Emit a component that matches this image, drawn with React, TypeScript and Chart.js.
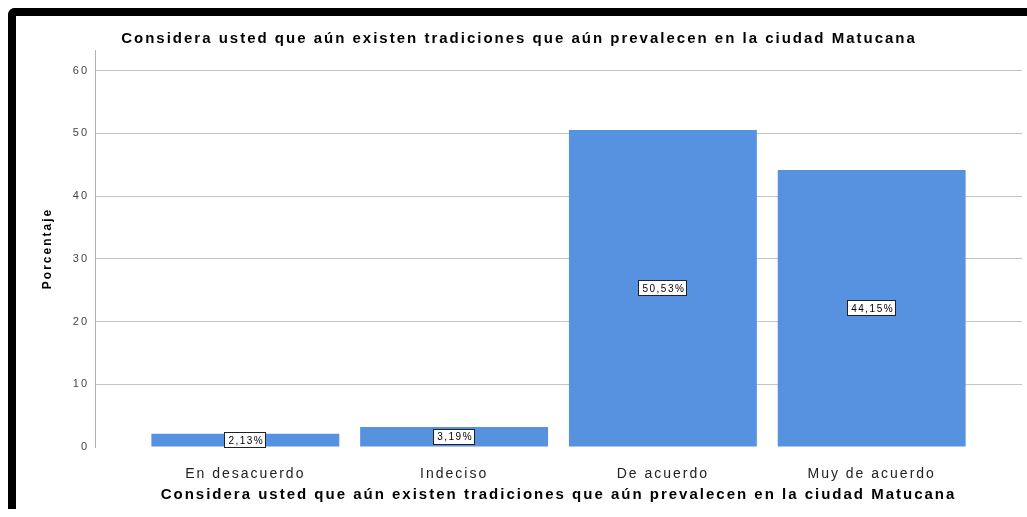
import React, { useEffect, useRef } from 'react';
import { Chart, registerables } from 'chart.js';

Chart.register(...registerables);

const categories = ['En desacuerdo', 'Indeciso', 'De acuerdo', 'Muy de acuerdo'];
const percentages = [2.13, 3.19, 50.53, 44.15];
const yTickValues = [0, 10, 20, 30, 40, 50, 60];
const chartTitle = 'Considera usted que aún existen tradiciones que aún prevalecen en la ciudad Matucana';
const yAxisTitle = 'Porcentaje';

const FONT = '"Liberation Sans", Arial, sans-serif';
const SPACING = '2px';
const BAR_COLOR = '#5692e0';

const spacingPlugin = {
  id: 'letterSpacingPlugin',
  beforeUpdate(chart: any) {
    chart.ctx.letterSpacing = SPACING;
  },
  beforeDraw(chart: any) {
    chart.ctx.letterSpacing = SPACING;
  },
};

const valueLabelPlugin = {
  id: 'valueLabelPlugin',
  afterDatasetsDraw(chart: any) {
    const ctx = chart.ctx;
    const meta = chart.getDatasetMeta(0);
    ctx.save();
    ctx.letterSpacing = '1.5px';
    ctx.font = `10px ${FONT}`;
    ctx.textAlign = 'center';
    ctx.textBaseline = 'middle';
    meta.data.forEach((el: any, i: number) => {
      const { x, y, base } = el.getProps(['x', 'y', 'base'], true);
      const cy = (y + base) / 2;
      const text = percentages[i].toFixed(2).replace('.', ',') + '%';
      const w = Math.round(ctx.measureText(text).width + 6);
      const h = 16;
      const left = Math.round(x - w / 2);
      const top = Math.round(cy - h / 2);
      ctx.fillStyle = '#ffffff';
      ctx.fillRect(left, top, w, h);
      ctx.strokeStyle = '#222222';
      ctx.lineWidth = 1;
      ctx.strokeRect(left + 0.5, top + 0.5, w - 1, h - 1);
      ctx.fillStyle = '#000000';
      ctx.fillText(text, x + 1, cy + 1);
    });
    ctx.restore();
  },
};

export default function App() {
  const canvasRef = useRef<HTMLCanvasElement | null>(null);

  useEffect(() => {
    document.documentElement.style.overflow = 'hidden';
    document.body.style.overflow = 'hidden';
    const canvas = canvasRef.current;
    if (!canvas) return;
    const chart = new Chart(canvas, {
      type: 'bar',
      data: {
        datasets: [
          {
            data: categories.map((_, i) => ({ x: i, y: percentages[i] })),
            backgroundColor: BAR_COLOR,
            borderWidth: 0,
            categoryPercentage: 1,
            barPercentage: 0.9,
          },
        ],
      },
      options: {
        responsive: false,
        animation: false,
        devicePixelRatio: 1,
        events: [],
        layout: { padding: { left: 0, right: 5, top: 0, bottom: 0 } },
        plugins: {
          legend: { display: false },
          tooltip: { enabled: false },
          title: {
            display: true,
            text: chartTitle,
            color: '#000000',
            font: { family: FONT, size: 15, weight: 'bold', lineHeight: 1.2 },
            padding: { top: 13.5, bottom: 2.5 },
          },
        },
        scales: {
          x: {
            type: 'linear',
            min: -0.72,
            max: 3.72,
            offset: false,
            grid: { display: false },
            border: { display: false },
            afterBuildTicks: (scale: any) => {
              scale.ticks = categories.map((_, i) => ({ value: i }));
            },
            afterFit: (scale: any) => {
              scale.height = 62;
            },
            ticks: {
              autoSkip: false,
              maxRotation: 0,
              minRotation: 0,
              padding: 11,
              color: '#222222',
              font: { family: FONT, size: 14, lineHeight: 1.2 },
              callback: (value: any) => categories[value as number] ?? '',
            },
            title: {
              display: true,
              text: chartTitle,
              color: '#000000',
              font: { family: FONT, size: 15, weight: 'bold', lineHeight: 1.2 },
              padding: { top: 4, bottom: 5 },
            },
          },
          y: {
            min: 0,
            max: 63.3,
            afterBuildTicks: (scale: any) => {
              scale.ticks = yTickValues.map((v) => ({ value: v }));
            },
            afterFit: (scale: any) => {
              scale.width = 79;
            },
            grid: {
              drawTicks: false,
              color: (ctx: any) => (ctx.tick && ctx.tick.value === 0 ? 'rgba(0,0,0,0)' : '#c4c4c4'),
              lineWidth: 1,
            },
            border: { display: true, color: '#b0b0b0', width: 1 },
            ticks: {
              padding: 6,
              color: '#444444',
              font: { family: FONT, size: 11 },
            },
            title: {
              display: true,
              text: yAxisTitle,
              color: '#000000',
              font: { family: FONT, size: 12, weight: 'bold', lineHeight: 1.2 },
              padding: { top: 24, bottom: 0 },
            },
          },
        },
      },
      plugins: [spacingPlugin, valueLabelPlugin],
    } as any);
    return () => chart.destroy();
  }, []);

  return (
    <div
      style={{
        position: 'absolute',
        left: 8,
        top: 8,
        width: 1011,
        height: 493,
        borderTop: '8px solid #000',
        borderLeft: '8px solid #000',
        borderTopLeftRadius: 7,
        background: '#fff',
      }}
    >
      <canvas ref={canvasRef} width={1011} height={493} style={{ display: 'block', width: 1011, height: 493 }} />
    </div>
  );
}
